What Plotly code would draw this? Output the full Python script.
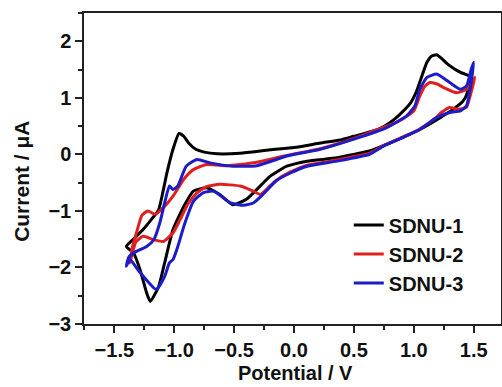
import plotly.graph_objects as go

# SDNU-1 (black) closed CV loop: upper branch (left->right) then lower branch (right->left)
sdnu1_x = [-1.40, -1.33, -1.26, -1.19, -1.13, -1.09, -1.06, -1.01, -0.96, -0.92, -0.88, -0.82, -0.75, -0.64,
           -0.45, -0.20, 0.00, 0.22, 0.40, 0.50, 0.64, 0.72, 0.80, 0.88, 0.97, 1.02, 1.07, 1.11, 1.15, 1.19,
           1.23, 1.28, 1.34, 1.39, 1.45, 1.47,
           1.44, 1.41, 1.33, 1.22, 1.05, 0.91, 0.80, 0.63, 0.36, 0.11, -0.06, -0.20, -0.31, -0.40, -0.51,
           -0.62, -0.73, -0.84, -0.92, -1.01, -1.08, -1.13, -1.20, -1.23, -1.285, -1.34, -1.40]
sdnu1_y = [-1.63, -1.48, -1.33, -1.15, -0.98, -0.62, -0.32, 0.09, 0.37, 0.32, 0.20, 0.09, 0.04, 0.01,
           0.02, 0.08, 0.12, 0.20, 0.26, 0.32, 0.40, 0.46, 0.56, 0.70, 0.90, 1.10, 1.40, 1.63, 1.74, 1.76,
           1.70, 1.60, 1.51, 1.45, 1.40, 1.38,
           1.05, 0.94, 0.80, 0.65, 0.44, 0.30, 0.20, 0.06, -0.06, -0.12, -0.21, -0.39, -0.62, -0.80, -0.89,
           -0.71, -0.59, -0.65, -0.92, -1.33, -1.92, -2.34, -2.60, -2.45, -2.04, -1.74, -1.63]

# SDNU-2 (red)
sdnu2_x = [-1.37, -1.35, -1.31, -1.27, -1.22, -1.16, -1.08, -1.01, -0.92, -0.84, -0.73, -0.56, -0.45, -0.31,
           -0.06, 0.22, 0.50, 0.70, 0.80, 0.885, 1.00, 1.05, 1.09, 1.135, 1.20, 1.25, 1.36, 1.44, 1.50, 1.51,
           1.47, 1.44, 1.37, 1.30, 1.23, 1.19, 1.05, 0.91, 0.75, 0.63, 0.36, 0.11, -0.03, -0.15, -0.22, -0.28,
           -0.34, -0.45, -0.62, -0.73, -0.81, -0.88, -0.95, -1.01, -1.09, -1.17, -1.26, -1.32, -1.37]
sdnu2_y = [-1.92, -1.65, -1.35, -1.08, -1.00, -1.06, -0.92, -0.74, -0.44, -0.27, -0.18, -0.20, -0.18, -0.14,
           -0.02, 0.10, 0.28, 0.44, 0.52, 0.60, 0.77, 1.03, 1.20, 1.27, 1.24, 1.18, 1.09, 1.15, 1.33, 1.36,
           1.03, 0.83, 0.80, 0.83, 0.74, 0.66, 0.45, 0.31, 0.16, 0.02, -0.10, -0.19, -0.31, -0.46, -0.60, -0.71,
           -0.65, -0.56, -0.53, -0.57, -0.68, -0.86, -1.15, -1.39, -1.54, -1.51, -1.45, -1.55, -1.92]

# SDNU-3 (blue)
sdnu3_x = [-1.40, -1.38, -1.32, -1.23, -1.17, -1.12, -1.08, -1.04, -1.01, -0.97, -0.90, -0.81, -0.70, -0.51,
           -0.31, -0.06, 0.22, 0.50, 0.77, 0.94, 1.01, 1.05, 1.11, 1.19, 1.30, 1.39, 1.44, 1.48, 1.50,
           1.47, 1.44, 1.39, 1.30, 1.19, 1.05, 0.91, 0.75, 0.63, 0.36, 0.11, -0.03, -0.15, -0.26, -0.34,
           -0.42, -0.53, -0.59, -0.67, -0.76, -0.84, -0.91, -0.97, -1.01, -1.04, -1.08, -1.15, -1.22, -1.30,
           -1.37, -1.40]
sdnu3_y = [-1.98, -1.82, -1.72, -1.63, -1.51, -1.21, -0.86, -0.56, -0.62, -0.56, -0.21, -0.09, -0.15, -0.21,
           -0.20, -0.03, 0.09, 0.27, 0.47, 0.68, 0.86, 1.15, 1.36, 1.42, 1.27, 1.15, 1.21, 1.51, 1.63,
           1.15, 0.86, 0.77, 0.74, 0.65, 0.44, 0.30, 0.15, 0.00, -0.12, -0.21, -0.33, -0.47, -0.71, -0.86,
           -0.90, -0.86, -0.77, -0.65, -0.68, -0.83, -1.21, -1.63, -1.86, -1.92, -2.16, -2.39, -2.25, -2.05,
           -1.86, -1.98]

names = ["SDNU-1", "SDNU-2", "SDNU-3"]
colors = ["#000000", "#e0201e", "#1c1cc8"]
xs = [sdnu1_x, sdnu2_x, sdnu3_x]
ys = [sdnu1_y, sdnu2_y, sdnu3_y]

FONT = "Liberation Sans, Arial, sans-serif"

fig = go.Figure()
for n, c, x, y in zip(names, colors, xs, ys):
    fig.add_trace(go.Scatter(x=x, y=y, mode="lines", name=n,
                             line=dict(color=c, width=3, shape="spline", smoothing=0.5)))

axis_common = dict(
    showline=True, linecolor="#222222", linewidth=1.5, mirror=True,
    ticks="outside", ticklen=7, tickwidth=1.5, tickcolor="#222222",
    showgrid=False, zeroline=False, automargin=False,
    tickfont=dict(family=FONT, size=20, color="#111111", weight="bold"),
)

fig.update_xaxes(range=[-1.753, 1.728], tick0=-1.5, dtick=0.5, tickformat=".1f",
                 minor=dict(dtick=0.25, ticks="outside", ticklen=4, tickwidth=1.5, tickcolor="#222222"),
                 **axis_common)
fig.update_yaxes(range=[-3, 2.5], tick0=-3, dtick=1,
                 minor=dict(dtick=0.5, ticks="outside", ticklen=4, tickwidth=1.5, tickcolor="#222222"),
                 **axis_common)

fig.add_annotation(text="Potential / V", xref="paper", yref="paper", x=0.506, y=0,
                   xanchor="center", yanchor="middle", yshift=-49, showarrow=False,
                   font=dict(family=FONT, size=20, color="#111111", weight="bold"))
fig.add_annotation(text="Current / μA", xref="paper", yref="paper", x=0, y=0.457,
                   xanchor="center", yanchor="middle", xshift=-62, textangle=-90, showarrow=False,
                   font=dict(family=FONT, size=21, color="#111111", weight="bold"))

fig.update_layout(
    width=502, height=387,
    margin=dict(l=84, r=1, t=13, b=63),
    paper_bgcolor="white", plot_bgcolor="white",
    showlegend=True,
    legend=dict(x=0.635, y=0.381, xanchor="left", yanchor="top",
                bgcolor="rgba(0,0,0,0)",
                font=dict(family=FONT, size=20, color="#111111", weight="bold")),
)

fig.write_html("out.html",
               config={"displayModeBar": False},
               post_script="document.body.style.margin='0px';document.body.style.overflow='hidden';")
